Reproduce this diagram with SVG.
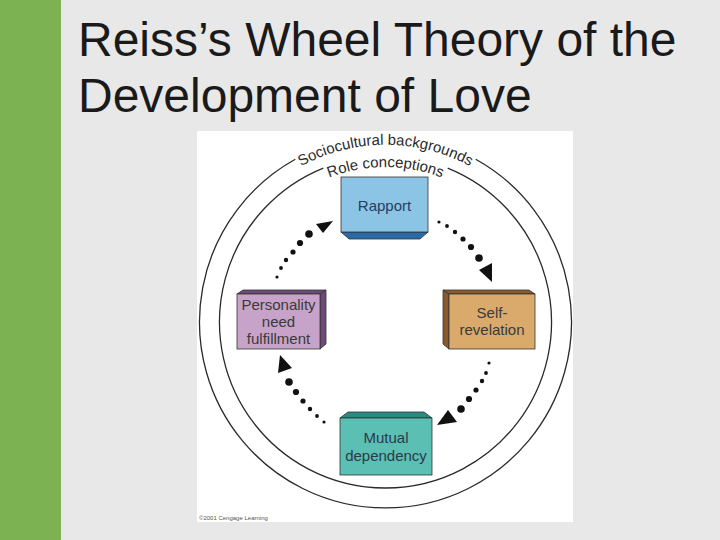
<svg xmlns="http://www.w3.org/2000/svg" width="720" height="540" viewBox="0 0 720 540">
<defs>
<style>
.title{font-family:"Liberation Sans",Arial,sans-serif;font-size:48px;fill:#1a1a1a}
.ring{fill:none;stroke:#2a2a2a;stroke-width:1.3}
.arc{font-family:"Liberation Sans",Arial,sans-serif;font-size:15px;fill:#2a2a2a}
.lbl{font-family:"Liberation Sans",Arial,sans-serif;font-size:15px;text-anchor:middle}
.dot{fill:#111}
.edge{stroke:#333;stroke-width:0.8}
</style>
<path id="outerText" d="M232.1,233.5 A177,177 0 0 1 538.9,233.5"/>
<path id="innerText" d="M251.3,244.5 A155,155 0 0 1 519.7,244.5"/>
</defs>
<rect x="0" y="0" width="720" height="540" fill="#e8e8e8"/>
<rect x="0" y="0" width="61" height="540" fill="#7cb252"/>
<text class="title" x="78" y="56">Reiss’s Wheel Theory of the</text>
<text class="title" x="78" y="112">Development of Love</text>
<rect x="197" y="131" width="376" height="391" fill="#ffffff"/>

<g id="rings">
<path class="ring" d="M475.7,159.3 A186,186 0 1 1 295.3,159.3"/>
<path class="ring" d="M447.7,168.1 A166,166 0 1 1 323.3,168.1"/>
<text class="arc"><textPath href="#outerText" startOffset="50%" text-anchor="middle">Sociocultural backgrounds</textPath></text>
<text class="arc" font-size="14.5"><textPath href="#innerText" startOffset="50%" text-anchor="middle">Role conceptions</textPath></text>
</g>

<g id="connectors">
<g id="arrow-tl">
<circle class="dot" cx="277" cy="277" r="1.6"/>
<circle class="dot" cx="281" cy="268" r="1.9"/>
<circle class="dot" cx="286" cy="260" r="2.2"/>
<circle class="dot" cx="293" cy="252" r="2.6"/>
<circle class="dot" cx="300" cy="243" r="3.1"/>
<circle class="dot" cx="309" cy="234" r="3.8"/>
<polygon class="dot" points="316,224 333,221 323,233"/>
</g>
<g id="arrow-tr">
<circle class="dot" cx="439" cy="222" r="1.6"/>
<circle class="dot" cx="447" cy="226" r="1.9"/>
<circle class="dot" cx="455" cy="232" r="2.2"/>
<circle class="dot" cx="463" cy="239" r="2.6"/>
<circle class="dot" cx="471" cy="247" r="3.1"/>
<circle class="dot" cx="479" cy="258" r="3.8"/>
<polygon class="dot" points="479,270 492,263 492,282"/>
</g>
<g id="arrow-br">
<circle class="dot" cx="489" cy="363" r="1.6"/>
<circle class="dot" cx="486" cy="373" r="1.9"/>
<circle class="dot" cx="482" cy="381" r="2.2"/>
<circle class="dot" cx="476" cy="390" r="2.6"/>
<circle class="dot" cx="469" cy="399" r="3.1"/>
<circle class="dot" cx="461" cy="409" r="3.8"/>
<polygon class="dot" points="448,410 457,422 437,425"/>
</g>
<g id="arrow-bl">
<circle class="dot" cx="324" cy="422" r="1.6"/>
<circle class="dot" cx="317" cy="416" r="1.9"/>
<circle class="dot" cx="310" cy="409" r="2.2"/>
<circle class="dot" cx="303" cy="401" r="2.6"/>
<circle class="dot" cx="296" cy="392" r="3.1"/>
<circle class="dot" cx="289" cy="382" r="3.8"/>
<polygon class="dot" points="280,355 292,368 278,373"/>
</g>
</g>

<g id="node-rapport">
<polygon class="edge" points="341,232 428,232 420,239 349,239" fill="#2a6aa6"/>
<rect class="edge" x="341" y="177" width="87" height="55" fill="#8cc4e6"/>
<text class="lbl" x="384.5" y="211" fill="#24405e">Rapport</text>
</g>

<g id="node-personality">
<polygon class="edge" points="237,294 243,290 326,290 320,294" fill="#6e4a78"/>
<polygon class="edge" points="320,294 326,290 326,344 320,349" fill="#6e4a78"/>
<rect class="edge" x="237" y="294" width="83" height="55" fill="#c7a3c9"/>
<text class="lbl" x="278.5" y="310" fill="#3a3a3a">Personality</text>
<text class="lbl" x="278.5" y="327" fill="#3a3a3a">need</text>
<text class="lbl" x="278.5" y="344" fill="#3a3a3a">fulfillment</text>
</g>

<g id="node-self">
<polygon class="edge" points="443,290 529,290 535,294 449,294" fill="#8a5a2e"/>
<polygon class="edge" points="443,290 449,294 449,349 443,344" fill="#8a5a2e"/>
<rect class="edge" x="449" y="294" width="86" height="55" fill="#d9aa6c"/>
<text class="lbl" x="492" y="318" fill="#3a3a3a">Self-</text>
<text class="lbl" x="492" y="335" fill="#3a3a3a">revelation</text>
</g>

<g id="node-mutual">
<polygon class="edge" points="348,412 424,412 432,418 340,418" fill="#2a8a80"/>
<rect class="edge" x="340" y="418" width="92" height="57" fill="#5cbfb4"/>
<text class="lbl" x="386" y="443" fill="#2a3a4a">Mutual</text>
<text class="lbl" x="386" y="461" fill="#2a3a4a">dependency</text>
</g>

<text x="199" y="520" font-family="Liberation Sans,Arial,sans-serif" font-size="6" fill="#555">©2001 Cengage Learning</text>
</svg>
